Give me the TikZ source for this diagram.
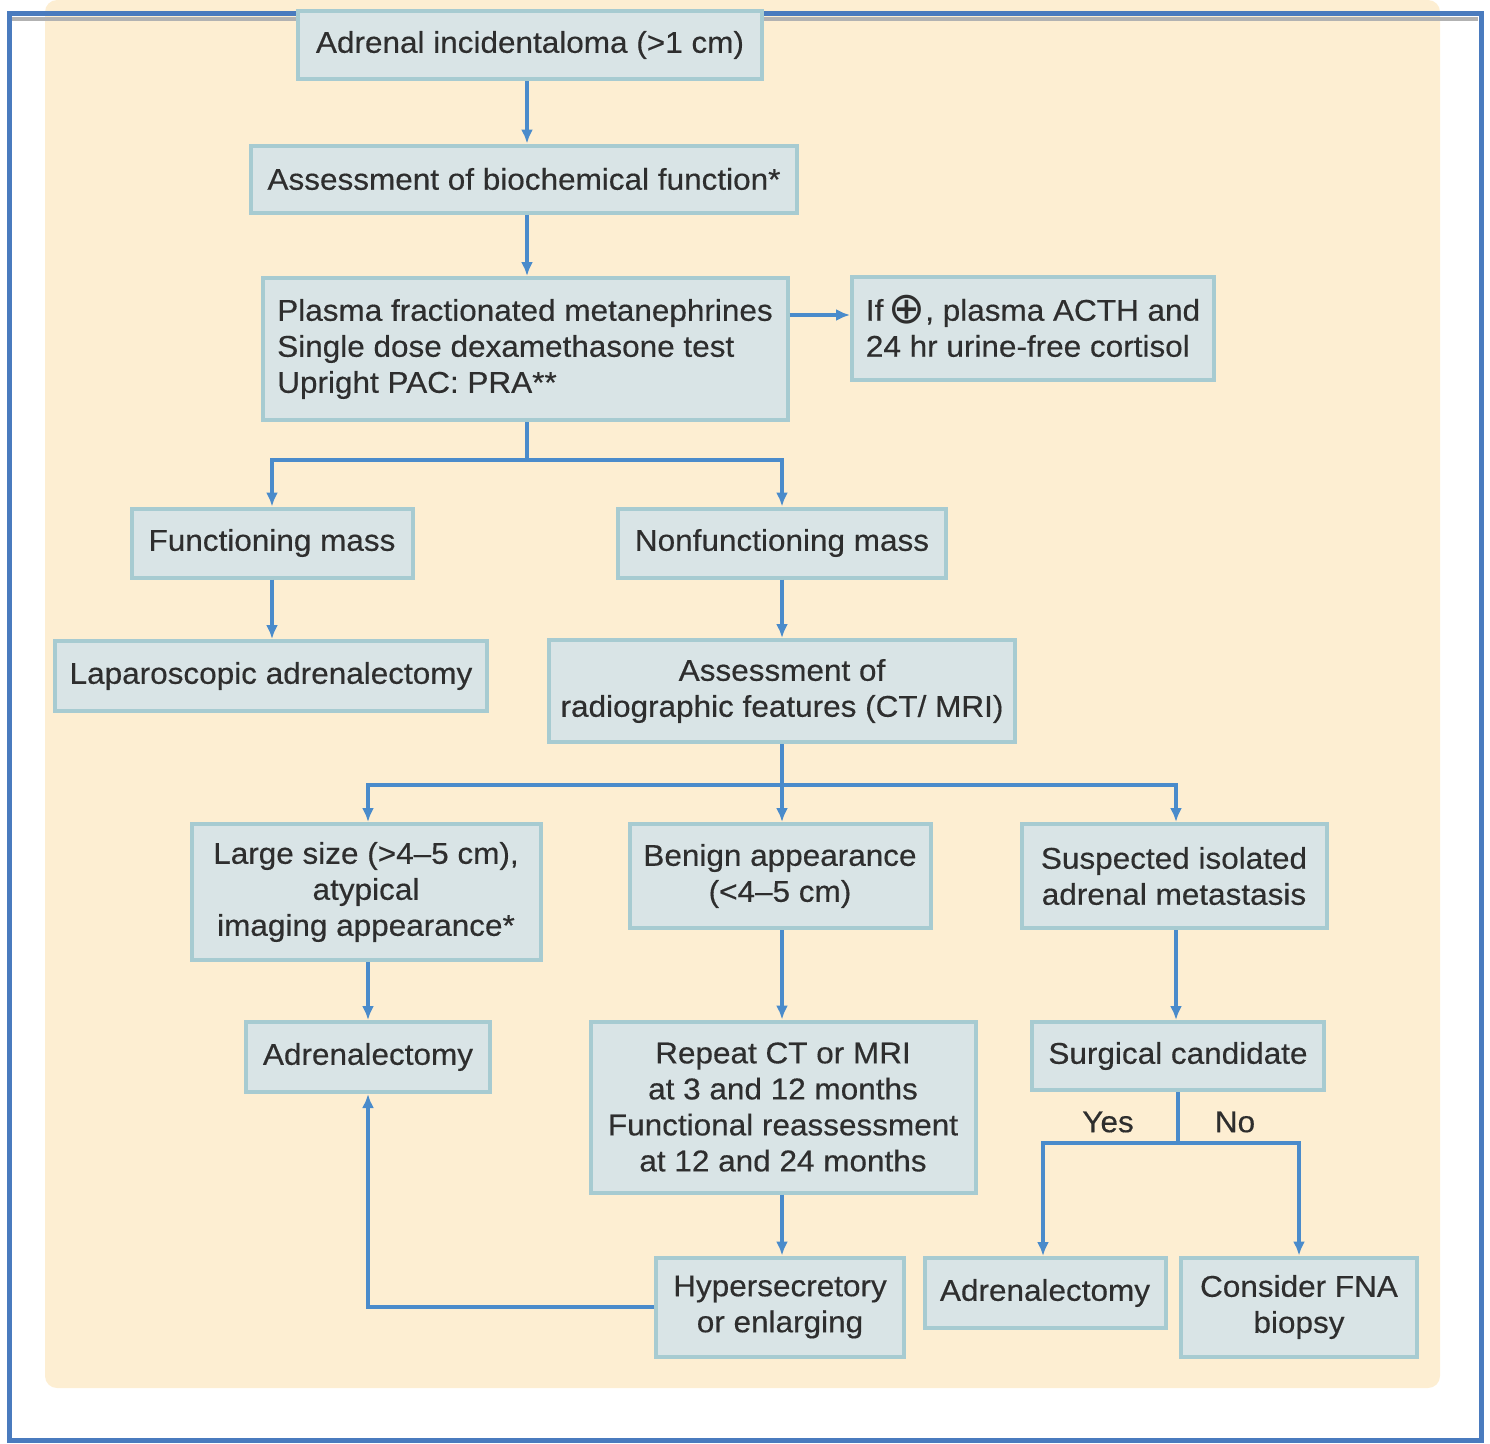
\documentclass[tikz,border=0pt]{standalone}
\usepackage{fontspec}
\setmainfont[FakeStretch=1.05,FakeBold=0.4]{Liberation Sans}
\newfontfamily\dejavu{DejaVu Sans}
\usetikzlibrary{arrows.meta}
\definecolor{cream}{HTML}{FDEED2}
\definecolor{boxfill}{HTML}{D9E4E6}
\definecolor{boxline}{HTML}{A7CBD1}
\definecolor{linec}{HTML}{4A8BCB}
\definecolor{framec}{HTML}{4A7BBE}
\definecolor{txt}{HTML}{2E2E2E}
\tikzset{
  box/.style={draw=boxline, fill=boxfill, line width=4pt, inner sep=0pt, align=center,
    text=txt, font=\fontsize{30}{36}\selectfont},
  conn/.style={draw=linec, line width=4.5pt},
  arr/.style={conn, -{Latex[length=14pt,width=12pt]}},
  lbl/.style={text=txt, font=\fontsize{30}{36}\selectfont, inner sep=0pt}
}
\begin{document}
\begin{tikzpicture}[x=1pt,y=-1pt]
\useasboundingbox (0,0) rectangle (1490,1443);
\fill[cream, rounded corners=12pt] (45,0) rectangle (1440,1388);
\fill[white] (0,0) rectangle (45,1443);
\draw[gray!60, line width=4pt] (12,19) -- (1478,19);
\draw[framec, line width=5pt] (9,13) rectangle (1481,1440);

\node[box, minimum width=464, minimum height=68] (inc) at (530,45) {Adrenal incidentaloma (>1 cm)};
\node[box, minimum width=546, minimum height=67] (bio) at (524,179) {Assessment of biochemical function*};
\node[box, minimum width=525, minimum height=142, align=left] (pl) at (525,349) {Plasma fractionated metanephrines\\Single dose dexamethasone test\\Upright PAC: PRA**};
\node[box, minimum width=362, minimum height=103, align=left] (ifb) at (1033,328) {If\,\smash{\raisebox{-3pt}{\dejavu\fontsize{44}{36}\selectfont ⊕}}, plasma ACTH and\\24 hr urine-free cortisol};
\node[box, minimum width=281, minimum height=69] (fm) at (272,543) {Functioning mass};
\node[box, minimum width=328, minimum height=69] (nfm) at (782,543) {Nonfunctioning mass};
\node[box, minimum width=432, minimum height=70] (lap) at (271,676) {Laparoscopic adrenalectomy};
\node[box, minimum width=466, minimum height=102] (rad) at (782,691) {Assessment of\\radiographic features (CT/ MRI)};
\node[box, minimum width=349, minimum height=136] (lg) at (366,892) {Large size (>4--5 cm),\\atypical\\imaging appearance*};
\node[box, minimum width=301, minimum height=104] (ben) at (780,876) {Benign appearance\\(<4--5 cm)};
\node[box, minimum width=305, minimum height=104] (met) at (1174,876) {Suspected isolated\\adrenal metastasis};
\node[box, minimum width=244, minimum height=70] (adl) at (368,1057) {Adrenalectomy};
\node[box, minimum width=385, minimum height=171] (rep) at (783,1107) {Repeat CT or MRI\\at 3 and 12 months\\Functional reassessment\\at 12 and 24 months};
\node[box, minimum width=292, minimum height=68] (sc) at (1178,1056) {Surgical candidate};
\node[box, minimum width=248, minimum height=99] (hyp) at (780,1307) {Hypersecretory\\or enlarging};
\node[box, minimum width=241, minimum height=70] (adr) at (1045,1293) {Adrenalectomy};
\node[box, minimum width=236, minimum height=99] (fna) at (1299,1307) {Consider FNA\\biopsy};

\node[lbl] (yes) at (1108,1122) {Yes};
\node[lbl] (no) at (1235,1122) {No};

\coordinate (b1) at (527,460);
\coordinate (b2) at (782,785);
\coordinate (b3) at (1178,1143);

\draw[arr] (inc.south -| 527,0) -- (bio.north -| 527,0);
\draw[arr] (bio.south -| 527,0) -- (pl.north -| 527,0);
\draw[arr] (pl.east |- 0,315) -- (ifb.west |- 0,315);
\draw[conn] (pl.south -| b1) -- (b1);
\draw[arr] (b1) -| (fm.north);
\draw[arr] (b1) -| (nfm.north);
\draw[arr] (fm.south) -- (lap.north -| fm.south);
\draw[arr] (nfm.south) -- (rad.north -| nfm.south);
\draw[conn] (rad.south -| b2) -- (b2);
\draw[arr] (b2) -| (lg.north -| 368,0);
\draw[arr] (b2) -- (ben.north -| b2);
\draw[arr] (b2) -| (met.north -| 1176,0);
\draw[arr] (lg.south -| 368,0) -- (adl.north -| 368,0);
\draw[arr] (ben.south -| 782,0) -- (rep.north -| 782,0);
\draw[arr] (met.south -| 1176,0) -- (sc.north -| 1176,0);
\draw[arr] (rep.south -| 782,0) -- (hyp.north -| 782,0);
\draw[arr] (hyp.west) -| (adl.south);
\draw[conn] (sc.south -| b3) -- (b3);
\draw[arr] (b3) -| (adr.north -| 1043,0);
\draw[arr] (b3) -| (fna.north);
\end{tikzpicture}
\end{document}
